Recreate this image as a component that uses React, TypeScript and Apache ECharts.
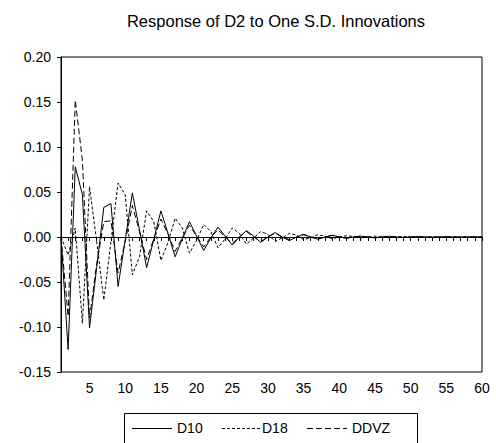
import React, { useEffect, useRef } from "react";
import * as echarts from "echarts";

const periods: number[] = Array.from({ length: 60 }, (_, i) => i + 1);

const d10: number[] = [
  0, -0.125, 0.078, 0.047, -0.101, -0.034, 0.033, 0.037, -0.055, -0.003,
  0.049, 0.008, -0.034, -0.003, 0.029, 0.004, -0.022, -0.002, 0.017, 0.001,
  -0.015, -0.001, 0.011, 0.001, -0.009, 0.0, 0.007, 0.001, -0.006, 0.0,
  0.005, 0.0, -0.004, 0.0, 0.003, 0.0, -0.0025, 0.0, 0.002, 0.0,
  -0.0015, 0.0, 0.001, 0.0, -0.001, 0.0, 0.0008, 0.0, -0.0006, 0.0,
  0.0005, 0.0, -0.0004, 0.0, 0.0003, 0.0, -0.0002, 0.0, 0.0002, 0.0,
];

const d18: number[] = [
  0, -0.02, 0.01, -0.096, 0.056, -0.005, -0.07, -0.005, 0.06, 0.047,
  -0.042, -0.022, 0.029, 0.017, -0.026, -0.006, 0.021, 0.01, -0.018, -0.004,
  0.014, 0.006, -0.012, -0.002, 0.01, 0.004, -0.008, -0.001, 0.006, 0.003,
  -0.005, -0.001, 0.004, 0.002, -0.003, -0.001, 0.0025, 0.001, -0.002, 0.0,
  0.0015, 0.0005, -0.001, 0.0, 0.001, 0.0, -0.0008, 0.0, 0.0006, 0.0,
  -0.0005, 0.0, 0.0004, 0.0, -0.0003, 0.0, 0.0002, 0.0, -0.0002, 0.0,
];

const ddvz: number[] = [
  0, -0.088, 0.152, 0.085, -0.09, -0.03, 0.017, 0.018, -0.04, -0.005,
  0.035, 0.006, -0.025, -0.002, 0.02, 0.003, -0.016, -0.001, 0.013, 0.001,
  -0.011, 0.0, 0.008, 0.0, -0.007, 0.0, 0.006, 0.0, -0.005, 0.0,
  0.004, 0.0, -0.003, 0.0, 0.0025, 0.0, -0.002, 0.0, 0.0015, 0.0,
  -0.001, 0.0, 0.001, 0.0, -0.0008, 0.0, 0.0006, 0.0, -0.0005, 0.0,
  0.0004, 0.0, -0.0003, 0.0, 0.0002, 0.0, -0.0002, 0.0, 0.0001, 0.0,
];

const seriesNames = ["D10", "D18", "DDVZ"];
const titleText = "Response of D2 to One S.D. Innovations";
const FONT = '"Liberation Sans", Arial, sans-serif';

export default function App() {
  const ref = useRef<HTMLDivElement>(null);
  useEffect(() => {
    if (!ref.current) return;
    const chart = echarts.init(ref.current, null, { renderer: "svg" });
    const pair = (arr: number[]) => periods.map((p, i) => [p, arr[i]]);
    const dashes: any[] = ["solid", [3, 2], [6, 3]];
    const datas = [d10, d18, ddvz];
    const legendX = [132, 222, 307];
    const legendTextX = [177, 262, 352];
    const legendY = 428;
    const legendGraphics: any[] = [
      {
        type: "rect",
        shape: { x: 124.5, y: 413.5, width: 293, height: 40 },
        style: { fill: "none", stroke: "#000", lineWidth: 1 },
      },
    ];
    seriesNames.forEach((n, i) => {
      legendGraphics.push({
        type: "line",
        shape: { x1: legendX[i], y1: legendY + 0.5, x2: legendX[i] + 40, y2: legendY + 0.5 },
        style: {
          stroke: "#000",
          lineWidth: 1,
          lineDash: i === 0 ? null : dashes[i],
        },
      });
      legendGraphics.push({
        type: "text",
        x: legendTextX[i],
        y: legendY,
        style: {
          text: n,
          fill: "#000",
          fontSize: 14,
          fontFamily: FONT,
          verticalAlign: "middle",
        },
      });
    });

    chart.setOption({
      animation: false,
      backgroundColor: "#fff",
      title: {
        text: titleText,
        left: 271,
        top: 7,
        textAlign: "center",
        textStyle: { fontFamily: FONT, fontSize: 16.5, fontWeight: "normal", color: "#000" },
      },
      grid: {
        left: 61,
        right: 14,
        top: 57,
        bottom: 71,
        show: true,
        borderColor: "#000",
        borderWidth: 1,
        backgroundColor: "transparent",
      },
      xAxis: {
        type: "value",
        min: 1,
        max: 60,
        interval: 1,
        axisLine: { lineStyle: { color: "#000", width: 1 } },
        axisTick: { show: true, length: 4, lineStyle: { color: "#000" } },
        axisLabel: {
          formatter: (v: number) => (v % 5 === 0 ? String(v) : ""),
          color: "#000",
          fontSize: 14,
          fontFamily: FONT,
          margin: 9,
        },
        splitLine: { show: false },
      },
      yAxis: {
        type: "value",
        min: -0.15,
        max: 0.2,
        interval: 0.05,
        axisLine: { show: true, lineStyle: { color: "#000", width: 1 } },
        axisTick: { show: true, length: 4, lineStyle: { color: "#000" } },
        axisLabel: {
          formatter: (v: number) => (Math.abs(v) < 1e-9 ? "0.00" : v.toFixed(2)),
          color: "#000",
          fontSize: 14,
          fontFamily: FONT,
          margin: 10,
        },
        splitLine: { show: false },
      },
      series: seriesNames.map((n, i) => ({
        name: n,
        type: "line",
        data: pair(datas[i]),
        symbol: "none",
        lineStyle: { color: "#000", width: 1, type: dashes[i] },
        z: 3 - i,
        markLine:
          i === 0
            ? {
                silent: true,
                symbol: ["none", "none"],
                label: { show: false },
                lineStyle: { color: "#000", type: "solid", width: 1 },
                data: [{ yAxis: 0 }],
              }
            : undefined,
      })),
      graphic: legendGraphics,
    });
    return () => chart.dispose();
  }, []);
  return (
    <div
      ref={ref}
      style={{ position: "fixed", left: 0, top: 0, width: 496, height: 443 }}
    />
  );
}
